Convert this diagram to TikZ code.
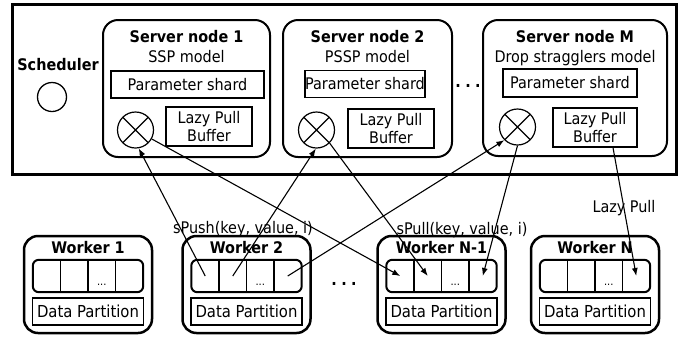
\documentclass[tikz,border=0pt]{standalone}
\usepackage{fontspec}
\setmainfont{DejaVu Sans Condensed}
\usetikzlibrary{arrows.meta}

\tikzset{
  frame/.style={draw,line width=3pt},
  srvbox/.style={draw,line width=2pt,rounded corners=15pt,inner sep=0pt,minimum height=137pt},
  box/.style={draw,line width=1.2pt,inner sep=0pt},
  wkbox/.style={draw,line width=2.5pt,rounded corners=14pt,inner sep=0pt,
    minimum width=128pt,minimum height=97pt},
  ttl/.style={font=\fontsize{16}{19}\selectfont\bfseries,inner sep=0pt},
  txt/.style={font=\fontsize{16}{18}\selectfont,inner sep=0pt},
  xcirc/.style={circle,draw,line width=1.2pt,minimum size=36pt,inner sep=0pt,
    path picture={\draw[line width=1.1pt]
      (path picture bounding box.north west) -- (path picture bounding box.south east)
      (path picture bounding box.north east) -- (path picture bounding box.south west);}},
  conn/.style={line width=1.1pt,-{Latex[length=8pt,width=6pt]}},
  cell/.style={minimum width=27.5pt,minimum height=32pt,inner sep=0pt},
  pics/worker/.style={code={
    \node[wkbox] (-box) at (0,0) {};
    \node[ttl,anchor=base] (-title) at (0,-31.5) {#1};
    \node[cell] (-c1) at (-41.25,-8.5) {};
    \node[cell] (-c2) at (-13.75,-8.5) {};
    \node[cell] (-c3) at (13.75,-8.5) {};
    \node[cell] (-c4) at (41.25,-8.5) {};
    \node[anchor=base,inner sep=0pt,font=\fontsize{11}{13}\selectfont] (-dots) at (13.75,1) {...};
    \draw[line width=2pt,rounded corners=6pt] (-c1.north west) rectangle (-c4.south east);
    \draw[line width=1.5pt] (-c1.north east) -- (-c1.south east)
                            (-c2.north east) -- (-c2.south east)
                            (-c3.north east) -- (-c3.south east);
    \node[box,txt,font=\fontsize{16.5}{19}\selectfont,minimum width=111pt,minimum height=27pt]
      (-data) at (0,27) {Data Partition};
  }}
}

\begin{document}
\begin{tikzpicture}[x=1pt,y=-1pt]
\useasboundingbox (0,0) rectangle (683,341);

% server group
\draw[frame] (12,4) rectangle (676,174);

% scheduler
\node[ttl,anchor=base] (schedtxt) at (58,70) {Scheduler};
\node[circle,draw,line width=1.3pt,minimum size=29pt,inner sep=0pt] (sched) at (52,97) {};

% server node 1
\node[srvbox,minimum width=167pt] (s1) at (186.5,88.5) {};
\node[ttl,anchor=base] (s1t) at (186.5,42) {Server node 1};
\node[txt,anchor=base] (s1m) at (186.5,62) {SSP model};
\node[box,txt,minimum width=153pt,minimum height=27pt] (s1ps) at (187.5,84.5) {Parameter shard};
\node[xcirc] (s1x) at (135.5,130) {};
\node[box,txt,align=center,minimum width=86pt,minimum height=39pt] (s1lpb) at (209,126.5) {Lazy Pull\\Buffer};

% server node 2
\node[srvbox,minimum width=169pt] (s2) at (367.5,88.5) {};
\node[ttl,anchor=base] (s2t) at (367.5,42) {Server node 2};
\node[txt,anchor=base] (s2m) at (367.5,62) {PSSP model};
\node[box,txt,minimum width=120pt,minimum height=27pt] (s2ps) at (365,84) {Parameter shard};
\node[xcirc] (s2x) at (316.5,130) {};
\node[box,txt,align=center,minimum width=86pt,minimum height=39pt] (s2lpb) at (391,128.5) {Lazy Pull\\Buffer};

\node[ttl,anchor=base] (sdots) at (468,87) {.\hspace{4.5pt}.\hspace{4.5pt}.};

% server node M
\node[srvbox,minimum width=184pt,minimum height=136pt] (sm) at (575,88) {};
\node[ttl,anchor=base] (smt) at (575,42) {Server node M};
\node[txt,anchor=base] (smm) at (575,62) {Drop stragglers model};
\node[box,txt,minimum width=134pt,minimum height=28pt] (smps) at (570,83) {Parameter shard};
\node[xcirc] (smx) at (517.5,127) {};
\node[box,txt,align=center,minimum width=84pt,minimum height=39pt] (smlpb) at (595,127.5) {Lazy Pull\\Buffer};

% workers
\pic (w1) at (88,284.5) {worker=Worker 1};
\pic (w2) at (246.5,284.5) {worker=Worker 2};
\pic (wn1) at (441.5,284.5) {worker=Worker N-1};
\pic (wn) at (595,284.5) {worker=Worker N};
\node[ttl,anchor=base] (wdots) at (344,285) {.\hspace{4.5pt}.\hspace{4.5pt}.};

% messages between workers and servers
\draw[conn] (w2-c1.center) -- (s1x.-80);
\draw[conn] (s1x) -- (wn1-c1.center);
\draw[conn] (w2-c2.center) -- (s2x.-92);
\draw[conn] (s2x.-45) -- (wn1-c2.center);
\draw[conn] (w2-c4.center) -- (smx.-135);
\draw[conn] (smx.south) -- (wn1-c4.center);
\draw[conn] ([xshift=18pt]smlpb.south) -- (wn-c4.center);

\node[txt,anchor=base] (pushlbl) at (243,233) {sPush(key, value, i)};
\node[txt,anchor=base] (pulllbl) at (462,234) {sPull(key, value, i)};
\node[txt,anchor=base] (lazylbl) at (624,212) {Lazy Pull};
\end{tikzpicture}
\end{document}
